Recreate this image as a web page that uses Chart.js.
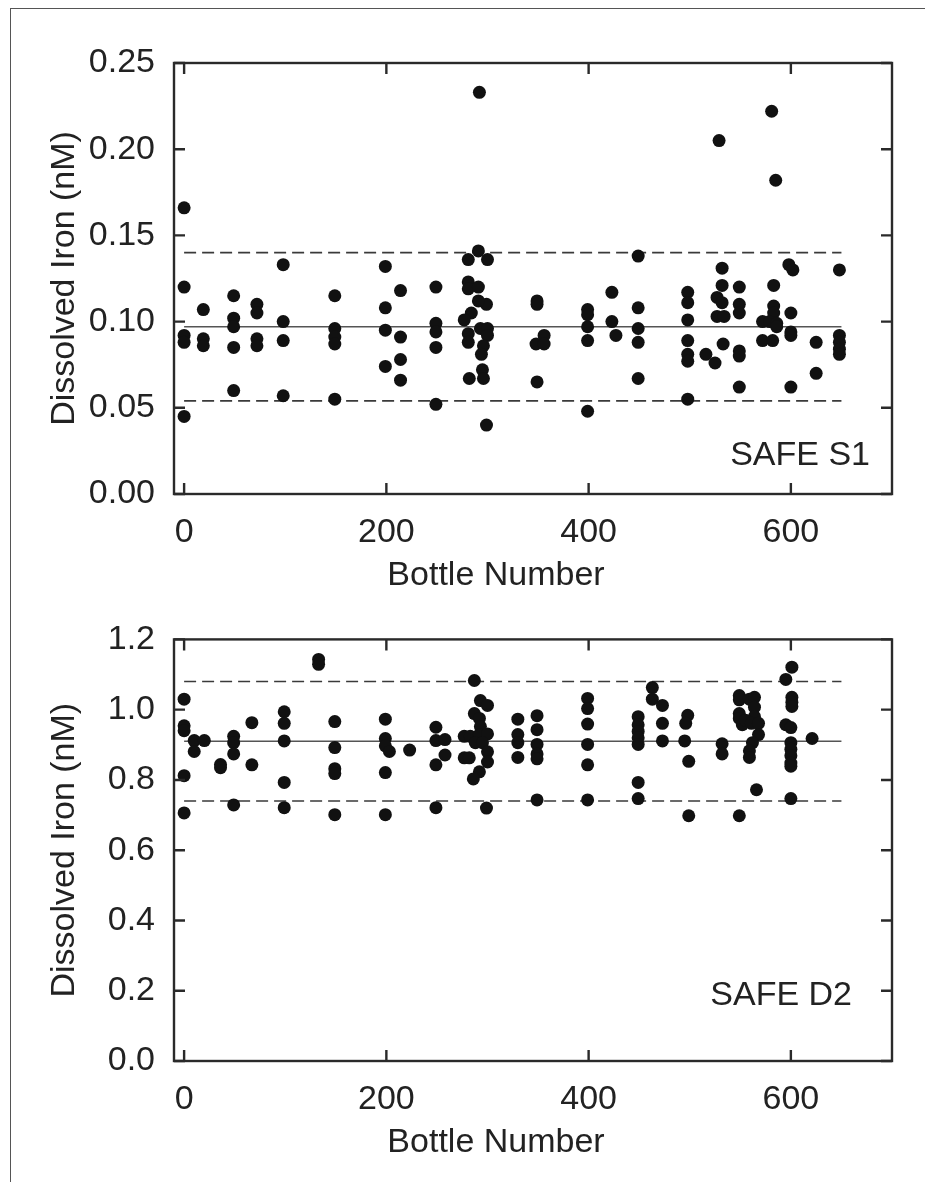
<!DOCTYPE html>
<html>
<head>
<meta charset="utf-8">
<script src="https://cdn.jsdelivr.net/npm/chart.js@4.4.1/dist/chart.umd.min.js"></script>
<style>
  html, body { margin: 0; padding: 0; background: #fff; }
  #page { position: relative; width: 925px; height: 1182px; overflow: hidden; background: #fff; }
  #rahmen { position: absolute; left: 10px; top: 8px; width: 930px; height: 1190px;
            border-left: 1.5px solid #555; border-top: 1.5px solid #555; }
  .panel { position: absolute; left: 0; width: 925px; }
  #panelS1 { top: 0; height: 600px; }
  #panelD2 { top: 600px; height: 582px; }
</style>
</head>
<body>
<div id="page">
  <div id="rahmen"></div>
  <div class="panel" id="panelS1"><canvas id="chartS1"></canvas></div>
  <div class="panel" id="panelD2"><canvas id="chartD2"></canvas></div>
</div>
<script>
// SAFE S1 (oberes Panel)
const s1Bottle = [
  0, 0, 0, 0, 0,
  19, 19, 19,
  49, 49, 49, 49, 49,
  72, 72, 72, 72,
  98, 98, 98, 98,
  149, 149, 149, 149, 149,
  199, 199, 199, 199,
  214, 214, 214, 214,
  249, 249, 249, 249, 249,
  292, 291, 281, 300, 281, 281, 291, 299, 291, 284, 277, 281, 293, 300, 300, 281, 296, 294, 295, 296, 282, 299,
  349, 349, 356, 348, 356, 349,
  399, 399, 399, 399, 399,
  423, 423, 427,
  449, 449, 449, 449, 449,
  498, 498, 498, 498, 498, 498, 498,
  516, 525, 529,
  532, 532, 527, 532, 527, 534, 533,
  549, 549, 549, 549, 549, 549,
  581, 585, 583, 583, 583, 572, 579, 586, 586, 572, 582,
  598, 602, 600, 600, 600, 600,
  625, 625,
  648, 648, 648, 648, 648
];
const s1Iron = [
  0.166, 0.120, 0.092, 0.088, 0.045,
  0.107, 0.090, 0.086,
  0.115, 0.102, 0.097, 0.085, 0.060,
  0.110, 0.105, 0.090, 0.086,
  0.133, 0.100, 0.089, 0.057,
  0.115, 0.096, 0.091, 0.087, 0.055,
  0.132, 0.108, 0.095, 0.074,
  0.118, 0.091, 0.078, 0.066,
  0.120, 0.099, 0.094, 0.085, 0.052,
  0.233, 0.141, 0.136, 0.136, 0.123, 0.119, 0.120, 0.110, 0.112, 0.105, 0.101, 0.093, 0.096, 0.096, 0.092, 0.088, 0.086, 0.081, 0.072, 0.067, 0.067, 0.040,
  0.112, 0.110, 0.092, 0.087, 0.087, 0.065,
  0.107, 0.104, 0.097, 0.089, 0.048,
  0.117, 0.100, 0.092,
  0.138, 0.108, 0.096, 0.088, 0.067,
  0.117, 0.111, 0.101, 0.089, 0.081, 0.077, 0.055,
  0.081, 0.076, 0.205,
  0.131, 0.121, 0.114, 0.111, 0.103, 0.103, 0.087,
  0.120, 0.110, 0.105, 0.083, 0.080, 0.062,
  0.222, 0.182, 0.121, 0.109, 0.105, 0.100, 0.100, 0.099, 0.097, 0.089, 0.089,
  0.133, 0.130, 0.105, 0.094, 0.092, 0.062,
  0.088, 0.070,
  0.130, 0.092, 0.088, 0.084, 0.081
];

// SAFE D2 (unteres Panel)
const d2Bottle = [
  133, 133,
  0, 0, 0, 0, 0,
  10, 10, 20,
  36, 36,
  49, 49, 49, 49,
  67, 67,
  99, 99, 99, 99, 99,
  149, 149, 149, 149, 149,
  199, 199, 199, 203, 199, 199,
  223,
  249, 249, 249, 249, 258, 258,
  287, 293, 300, 287, 292, 293, 277, 283, 292, 300, 288, 295, 300, 277, 282, 300, 292, 286, 299,
  330, 330, 330, 330,
  349, 349, 349, 349, 349, 349,
  399, 399, 399, 399, 399, 399,
  449, 449, 449, 449, 449, 449, 449,
  463, 463, 473, 473, 473,
  498, 496, 495, 499, 499,
  532, 532,
  549, 549, 549, 549, 552, 559, 564, 564, 564, 555, 561, 568, 568, 562, 559, 559, 566, 549,
  601, 595, 601, 601, 601, 595, 600, 600, 600, 600, 600, 600, 600,
  621
];
const d2Iron = [
  1.143, 1.129,
  1.030, 0.954, 0.940, 0.812, 0.706,
  0.912, 0.881, 0.912,
  0.844, 0.835,
  0.924, 0.906, 0.874, 0.729,
  0.963, 0.843,
  0.994, 0.961, 0.911, 0.793, 0.721,
  0.966, 0.892, 0.832, 0.818, 0.701,
  0.973, 0.918, 0.897, 0.881, 0.821, 0.701,
  0.885,
  0.950, 0.912, 0.843, 0.721, 0.915, 0.871,
  1.083, 1.026, 1.012, 0.989, 0.975, 0.952, 0.924, 0.924, 0.929, 0.931, 0.906, 0.906, 0.880, 0.863, 0.863, 0.851, 0.823, 0.803, 0.720,
  0.973, 0.929, 0.906, 0.864,
  0.983, 0.943, 0.901, 0.874, 0.860, 0.743,
  1.032, 1.003, 0.959, 0.901, 0.843, 0.743,
  0.980, 0.957, 0.938, 0.920, 0.901, 0.793, 0.747,
  1.063, 1.030, 1.012, 0.961, 0.911,
  0.984, 0.961, 0.911, 0.853, 0.698,
  0.903, 0.874,
  1.040, 1.028, 0.989, 0.975, 0.957, 1.030, 1.035, 1.007, 0.980, 0.970, 0.961, 0.961, 0.929, 0.906, 0.883, 0.864, 0.772, 0.698,
  1.121, 1.086, 1.035, 1.021, 1.009, 0.957, 0.949, 0.906, 0.887, 0.869, 0.848, 0.839, 0.747,
  0.918
];

// Mittelwert und Grenzen (gestrichelt), jeweils von Flasche 0 bis 650
const lineBottle = [0, 650];
const s1Mean = [0.097, 0.097];
const s1Upper = [0.140, 0.140];
const s1Lower = [0.054, 0.054];
const d2Mean = [0.91, 0.91];
const d2Upper = [1.08, 1.08];
const d2Lower = [0.74, 0.74];

const xTicks = [0, 200, 400, 600];
const s1YTicks = [0.00, 0.05, 0.10, 0.15, 0.20, 0.25];
const d2YTicks = [0.0, 0.2, 0.4, 0.6, 0.8, 1.0, 1.2];

const FONT = "'Liberation Sans', Arial, Helvetica, sans-serif";
const INK = "#222";

function toPoints(xs, ys) {
  return xs.map((x, i) => ({ x: x, y: ys[i] }));
}

// Rahmen, nach innen zeigende Ticks, Achsentitel x und Panel-Beschriftung
const rahmenPlugin = {
  id: "rahmen",
  afterDatasetsDraw(chart, args, opts) {
    const { ctx, chartArea: a } = chart;
    const x = chart.scales.x;
    const y = chart.scales.y;
    const tl = 11;
    ctx.save();
    ctx.strokeStyle = "#2a2a2a";
    ctx.lineWidth = 2.4;
    ctx.strokeRect(a.left, a.top, a.right - a.left, a.bottom - a.top);
    ctx.beginPath();
    x.ticks.forEach(function (t) {
      const px = x.getPixelForValue(t.value);
      ctx.moveTo(px, a.bottom);
      ctx.lineTo(px, a.bottom - tl);
      ctx.moveTo(px, a.top);
      ctx.lineTo(px, a.top + tl);
    });
    y.ticks.forEach(function (t) {
      const py = y.getPixelForValue(t.value);
      ctx.moveTo(a.left, py);
      ctx.lineTo(a.left + tl, py);
      ctx.moveTo(a.right, py);
      ctx.lineTo(a.right - tl, py);
    });
    ctx.stroke();

    ctx.fillStyle = INK;
    ctx.font = "34px " + FONT;
    ctx.textBaseline = "alphabetic";
    ctx.textAlign = "right";
    ctx.fillText(opts.tag, opts.tagX, opts.tagY);
    ctx.textAlign = "center";
    ctx.fillText("Bottle Number", 496, a.bottom + 91);
    ctx.restore();
  }
};

function makeChart(id, cfg) {
  const ctx = document.getElementById(id).getContext("2d");
  return new Chart(ctx, {
    type: "scatter",
    data: {
      datasets: [
        {
          data: toPoints(cfg.bottle, cfg.iron),
          backgroundColor: "#111",
          borderWidth: 0,
          pointRadius: 6.5,
          pointHoverRadius: 6.5
        },
        {
          data: toPoints(lineBottle, cfg.mean),
          showLine: true,
          borderColor: "#555",
          borderWidth: 1.6,
          pointRadius: 0
        },
        {
          data: toPoints(lineBottle, cfg.upper),
          showLine: true,
          borderColor: "#3a3a3a",
          borderWidth: 1.6,
          borderDash: [12, 6],
          pointRadius: 0
        },
        {
          data: toPoints(lineBottle, cfg.lower),
          showLine: true,
          borderColor: "#3a3a3a",
          borderWidth: 1.6,
          borderDash: [12, 6],
          pointRadius: 0
        }
      ]
    },
    options: {
      responsive: true,
      maintainAspectRatio: false,
      animation: false,
      layout: {
        autoPadding: false,
        padding: { top: cfg.areaTop, right: 33, left: 0, bottom: 0 }
      },
      plugins: {
        legend: { display: false },
        tooltip: { enabled: false },
        rahmen: { tag: cfg.tag, tagX: cfg.tagX, tagY: cfg.tagY }
      },
      scales: {
        x: {
          type: "linear",
          min: -10,
          max: 700,
          grid: { display: false, drawTicks: false },
          border: { display: false },
          afterBuildTicks: function (s) {
            s.ticks = xTicks.map(function (v) { return { value: v }; });
          },
          afterFit: function (s) {
            s.height = cfg.height - cfg.areaBottom;
          },
          ticks: {
            padding: 18,
            color: INK,
            font: { size: 34, family: FONT },
            maxRotation: 0,
            callback: function (v) { return String(v); }
          }
        },
        y: {
          type: "linear",
          min: cfg.yTicks[0],
          max: cfg.yTicks[cfg.yTicks.length - 1],
          grid: { display: false, drawTicks: false },
          border: { display: false },
          afterBuildTicks: function (s) {
            s.ticks = cfg.yTicks.map(function (v) { return { value: v }; });
          },
          afterFit: function (s) {
            s.width = 174;
          },
          ticks: {
            padding: 19,
            color: INK,
            font: { size: 34, family: FONT },
            callback: function (v) { return Number(v).toFixed(cfg.decimals); }
          },
          title: {
            display: true,
            text: "Dissolved Iron (nM)",
            color: INK,
            font: { size: 34, family: FONT },
            padding: { top: 44, bottom: 0 }
          }
        }
      }
    },
    plugins: [rahmenPlugin]
  });
}

makeChart("chartS1", {
  bottle: s1Bottle, iron: s1Iron,
  mean: s1Mean, upper: s1Upper, lower: s1Lower,
  yTicks: s1YTicks, decimals: 2,
  height: 600, areaTop: 63, areaBottom: 494,
  tag: "SAFE S1", tagX: 870, tagY: 465
});

makeChart("chartD2", {
  bottle: d2Bottle, iron: d2Iron,
  mean: d2Mean, upper: d2Upper, lower: d2Lower,
  yTicks: d2YTicks, decimals: 1,
  height: 582, areaTop: 29, areaBottom: 461,
  tag: "SAFE D2", tagX: 852, tagY: 405
});
</script>
</body>
</html>
